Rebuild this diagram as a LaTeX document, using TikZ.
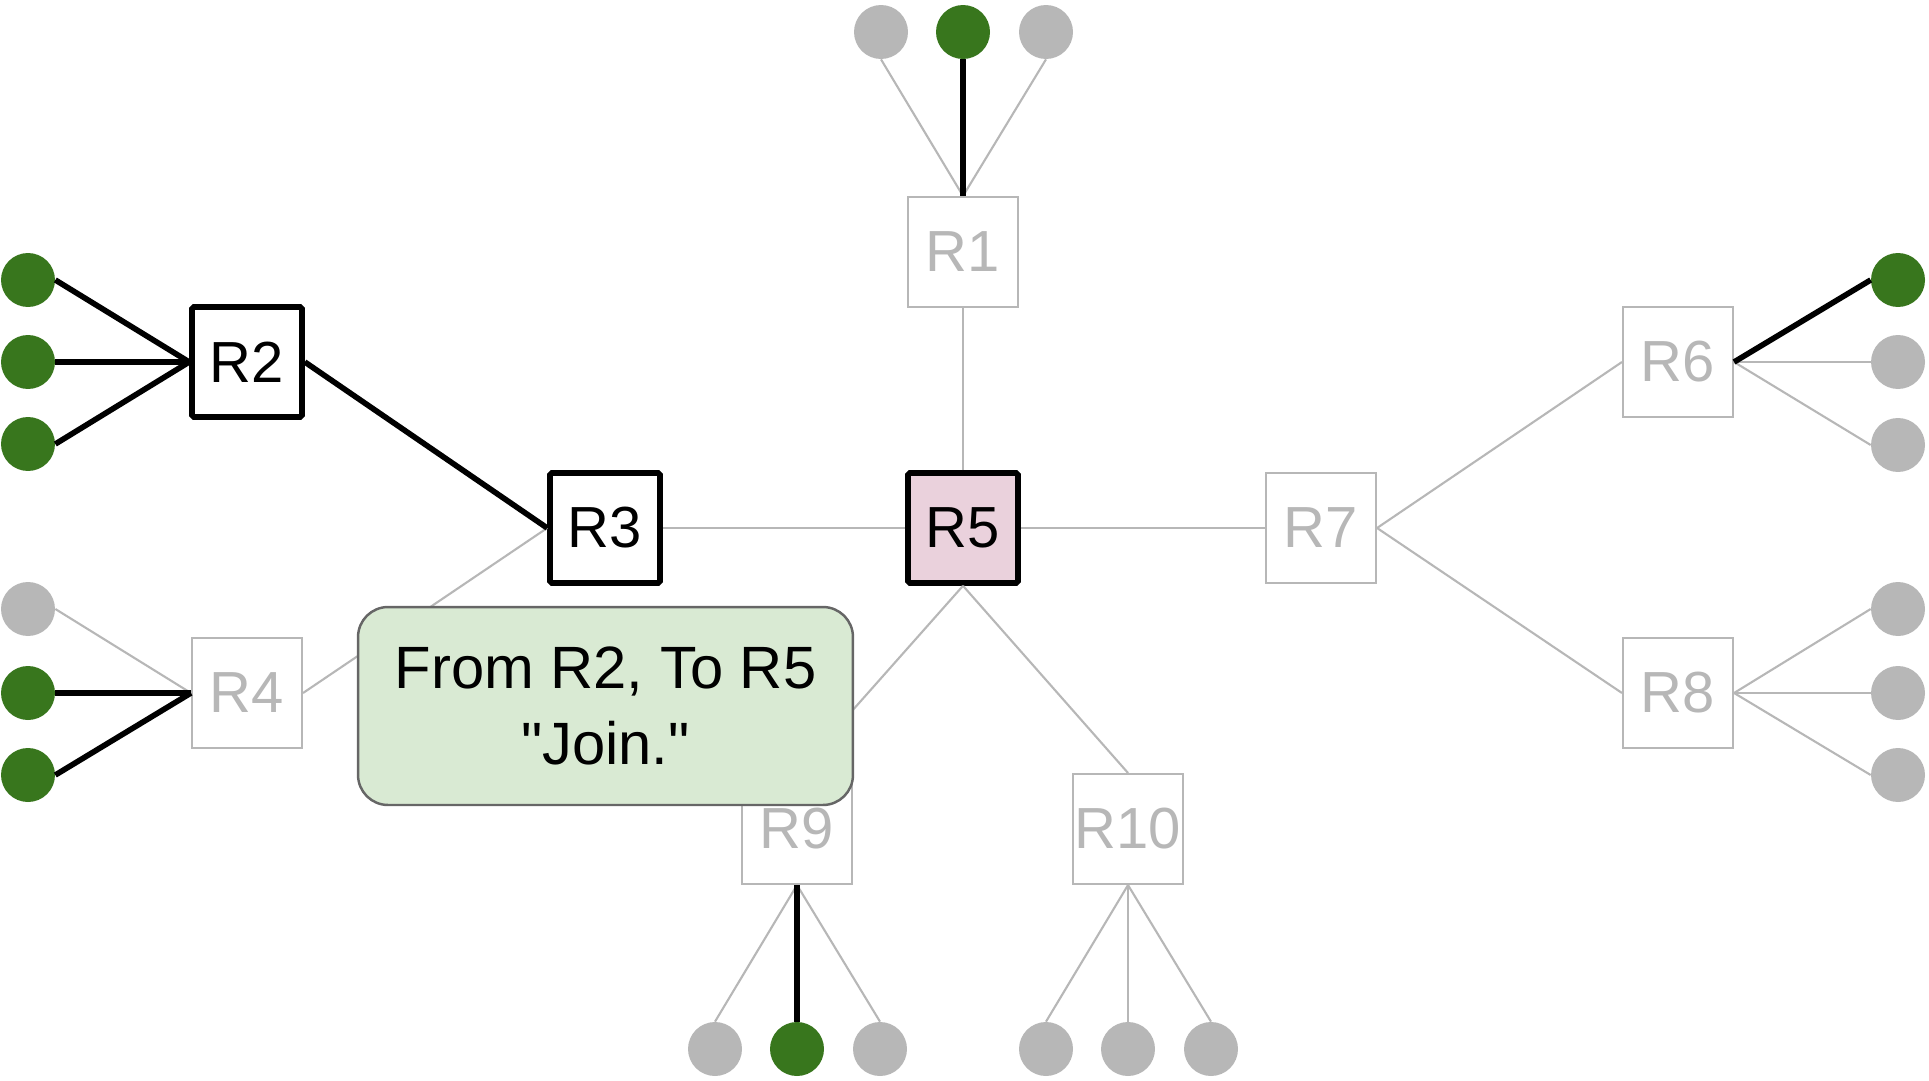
\documentclass[tikz,border=0pt]{standalone}
\usepackage{fontspec}
\setmainfont{Liberation Sans}
\usetikzlibrary{positioning}

\definecolor{offgray}{HTML}{B7B7B7}
\definecolor{hostgreen}{HTML}{38761D}
\definecolor{rootpink}{HTML}{EAD1DC}
\definecolor{notegreen}{HTML}{D9EAD3}
\definecolor{noteedge}{HTML}{666666}

\tikzset{
  router/.style={draw=offgray, fill=white, line width=1.2pt, minimum size=2.2cm,
    inner sep=0pt, text=offgray, font=\fontsize{33}{40}\selectfont},
  onrouter/.style={router, draw=black, line width=3.2pt, rounded corners=1pt, text=black},
  host/.style={circle, fill=offgray, minimum size=1.08cm, inner sep=0pt},
  onhost/.style={host, fill=hostgreen},
  link/.style={draw=offgray, line width=1.2pt},
  onlink/.style={draw=black, line width=3.2pt},
  note/.style={draw=noteedge, fill=notegreen, line width=1.4pt, rounded corners=0.6cm,
    minimum width=9.9cm, minimum height=3.96cm, align=center,
    font=\fontsize{34}{43}\selectfont}
}

\begin{document}
\begin{tikzpicture}[x=0.02cm, y=-0.02cm]
  \useasboundingbox (0,0) rectangle (1929,1081);

  % Define nodes
  \node[router] (R1) at (963,252) {R1};
  \node[onrouter] (R2) at (247,362) {R2};
  \node[onrouter] (R3) at (605,528) {R3};
  \node[router] (R4) at (247,693) {R4};
  \node[onrouter, fill=rootpink] (R5) at (963,528) {R5};
  \node[router] (R6) at (1678,362) {R6};
  \node[router] (R7) at (1321,528) {R7};
  \node[router] (R8) at (1678,693) {R8};
  \node[router] (R9) at (797,829) {R9};
  \node[router] (R10) at (1128,829) {R10};

  \node[host] (h1a) at (881,32) {};
  \node[onhost] (h1b) at (963,32) {};
  \node[host] (h1c) at (1046,32) {};
  \node[onhost] (h2a) at (28,280) {};
  \node[onhost] (h2b) at (28,362) {};
  \node[onhost] (h2c) at (28,444) {};
  \node[host] (h4a) at (28,609) {};
  \node[onhost] (h4b) at (28,693) {};
  \node[onhost] (h4c) at (28,775) {};
  \node[onhost] (h6a) at (1898,280) {};
  \node[host] (h6b) at (1898,362) {};
  \node[host] (h6c) at (1898,445) {};
  \node[host] (h8a) at (1898,609) {};
  \node[host] (h8b) at (1898,693) {};
  \node[host] (h8c) at (1898,775) {};
  \node[host] (h9a) at (715,1049) {};
  \node[onhost] (h9b) at (797,1049) {};
  \node[host] (h9c) at (880,1049) {};
  \node[host] (h10a) at (1046,1049) {};
  \node[host] (h10b) at (1128,1049) {};
  \node[host] (h10c) at (1211,1049) {};

  % Connect the nodes
  \path[link] (R5.north) -- (R1.south);
  \path[link] (R5.west) -- (R3.east);
  \path[link] (R5.east) -- (R7.west);
  \path[link] (R5.south) -- (R9.north);
  \path[link] (R5.south) -- (R10.north);
  \path[link] (R3.west) -- (R4.east);
  \path[link] (R7.east) -- (R6.west);
  \path[link] (R7.east) -- (R8.west);
  \path[link] (R1.north) -- (h1a.south);
  \path[link] (R1.north) -- (h1c.south);
  \path[link] (R4.west) -- (h4a.east);
  \path[link] (R6.east) -- (h6b.west);
  \path[link] (R6.east) -- (h6c.west);
  \path[link] (R8.east) -- (h8a.west);
  \path[link] (R8.east) -- (h8b.west);
  \path[link] (R8.east) -- (h8c.west);
  \path[link] (R9.south) -- (h9a.north);
  \path[link] (R9.south) -- (h9c.north);
  \path[link] (R10.south) -- (h10a.north);
  \path[link] (R10.south) -- (h10b.north);
  \path[link] (R10.south) -- (h10c.north);

  \path[onlink] (R2.east) -- (R3.west);
  \path[onlink] (R1.north) -- (h1b.south);
  \path[onlink] (R2.west) -- (h2a.east);
  \path[onlink] (R2.west) -- (h2b.east);
  \path[onlink] (R2.west) -- (h2c.east);
  \path[onlink] (R4.west) -- (h4b.east);
  \path[onlink] (R4.west) -- (h4c.east);
  \path[onlink] (R6.east) -- (h6a.west);
  \path[onlink] (R9.south) -- (h9b.north);

  % Message box
  \node[note] (msg) at (605.5,706) {From R2, To R5\\\textquotedbl Join.\textquotedbl};
\end{tikzpicture}
\end{document}
